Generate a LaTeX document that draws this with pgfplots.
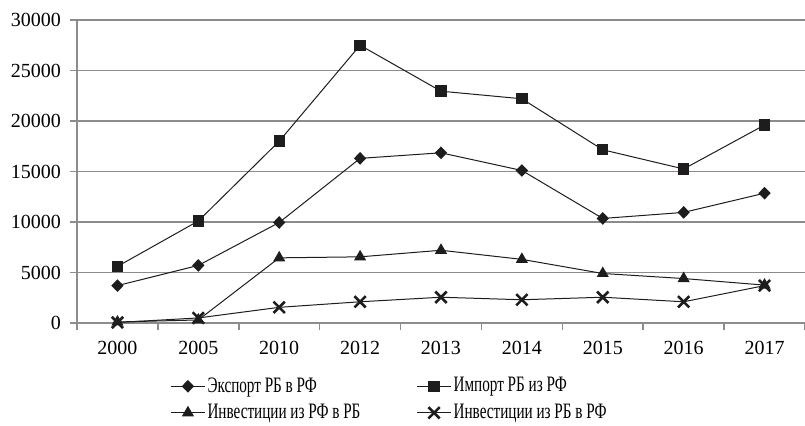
\documentclass[border=0pt]{standalone}
\usepackage{fontspec}
\setmainfont{Liberation Serif}
\usepackage{pgfplots}
\pgfplotsset{compat=1.18}
\definecolor{gridgray}{rgb}{0.55,0.55,0.55}
\definecolor{mk}{rgb}{0.12,0.11,0.11}
\newcommand{\lt}[1]{\scalebox{0.69}[1]{#1}}
\begin{document}
\begin{tikzpicture}
\path[use as bounding box] (0,0) rectangle (402.5pt,213pt);
\begin{axis}[
  at={(38.5pt,51.5pt)}, anchor=south west,
  scale only axis, width=364pt, height=151.5pt,
  xmin=-0.5, xmax=8.5, ymin=0, ymax=30000,
  axis x line=bottom, axis y line=left,
  axis line style={-, gridgray, line width=0.75pt},
  xtick={-0.5,0.5,...,8.5}, x tick label as interval,
  xticklabels={2000,2005,2010,2012,2013,2014,2015,2016,2017},
  ytick={0,5000,...,30000},
  ymajorgrids, grid style={gridgray, line width=0.75pt},
  tick style={gridgray, line width=0.75pt},
  major tick length=3.5pt,
  tick align=outside,
  scaled y ticks=false,
  /pgf/number format/assume math mode=true,
  /pgf/number format/1000 sep={},
  ticklabel style={font=\fontsize{10}{12}\selectfont},
  yticklabel style={xshift=-1pt},
  xticklabel style={yshift=-2pt},
  clip=false,
  legend columns=2,
  legend cell align=left,
  legend style={draw=none, fill=none, inner sep=0pt,
    at={(0.1277,-0.172)}, anchor=north west,
    font=\fontsize{11}{13}\selectfont,
    nodes={inner sep=1pt},
    row sep=2.5pt},
]
\addplot[mk, line width=0.5pt, mark=diamond*, mark size=2.8pt, mark options={fill=mk, xscale=1.3}]
  coordinates {(0,3700) (1,5700) (2,9950) (3,16300) (4,16850) (5,15100) (6,10350) (7,10950) (8,12850)};
\addlegendentry{\makebox[103.5pt][l]{\lt{Экспорт РБ в РФ}}}
\addplot[mk, line width=0.5pt, mark=square*, mark size=2.6pt, mark options={fill=mk}]
  coordinates {(0,5600) (1,10100) (2,18000) (3,27500) (4,22950) (5,22200) (6,17150) (7,15250) (8,19600)};
\addlegendentry{\lt{Импорт РБ из РФ}}
\addplot[mk, line width=0.5pt, mark=triangle*, mark size=3pt, mark options={fill=mk}]
  coordinates {(0,100) (1,300) (2,6450) (3,6550) (4,7200) (5,6300) (6,4900) (7,4400) (8,3750)};
\addlegendentry{\makebox[103.5pt][l]{\lt{Инвестиции из РФ в РБ}}}
\addplot[mk, line width=0.5pt, mark=x, mark size=4pt, mark options={line width=1.3pt}]
  coordinates {(0,50) (1,500) (2,1550) (3,2100) (4,2550) (5,2300) (6,2550) (7,2100) (8,3700)};
\addlegendentry{\lt{Инвестиции из РБ в РФ}}
\end{axis}
\end{tikzpicture}
\end{document}
